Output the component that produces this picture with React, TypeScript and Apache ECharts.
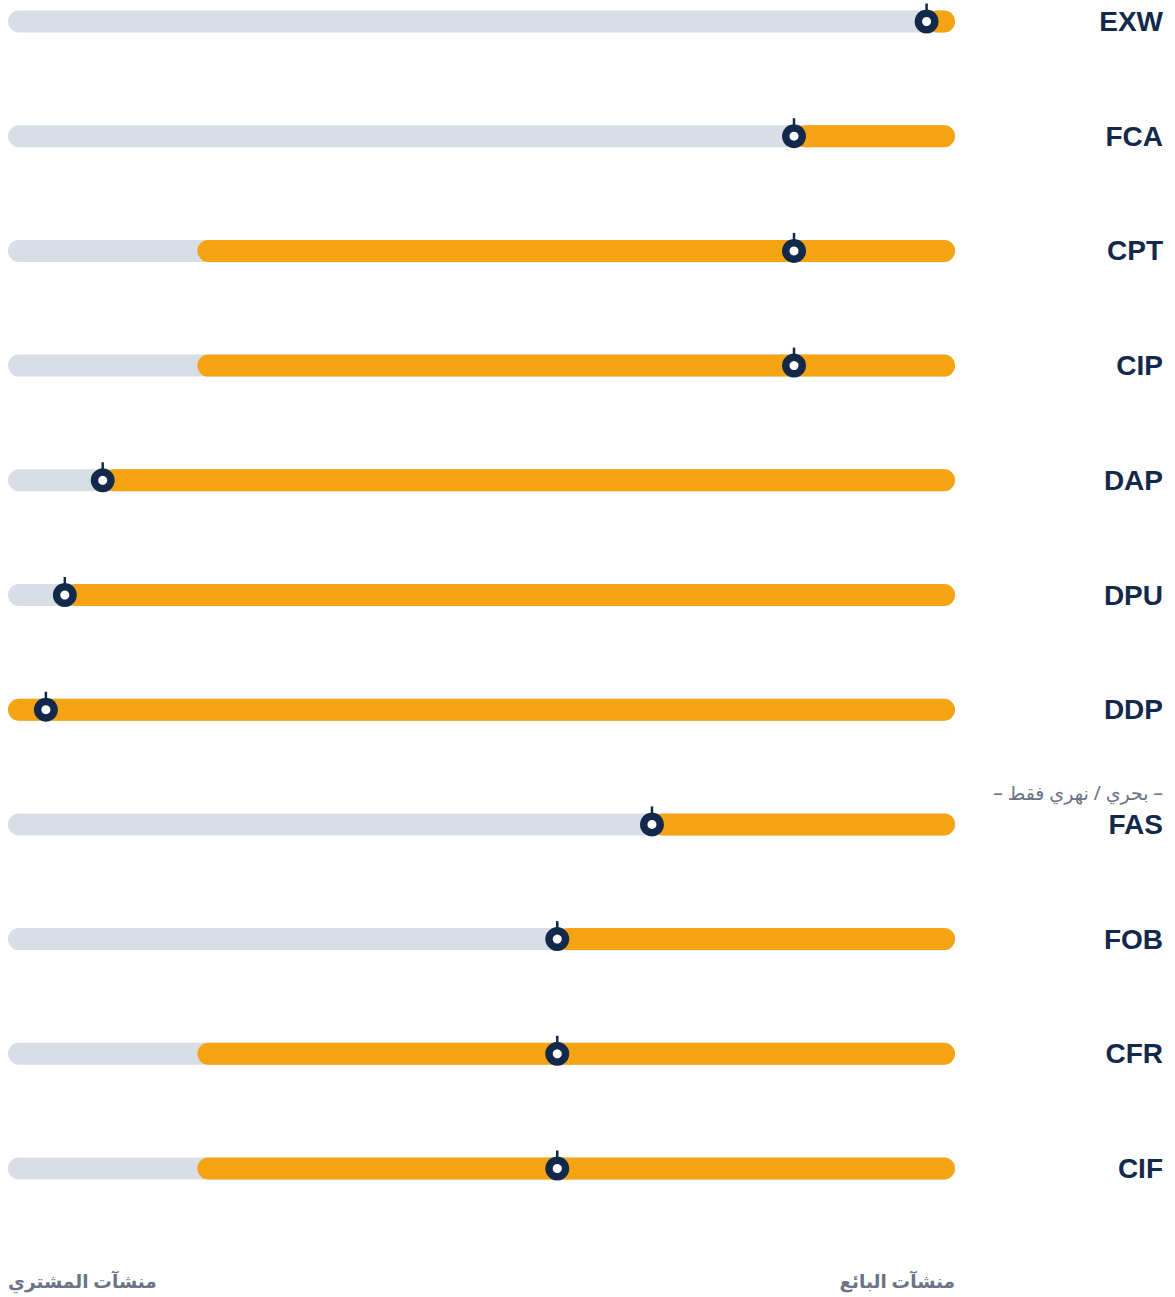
import React, { useEffect, useRef } from "react";
import * as echarts from "echarts";

// Incoterms rows, top to bottom
const categories = ["EXW", "FCA", "CPT", "CIP", "DAP", "DPU", "DDP", "FAS", "FOB", "CFR", "CIF"];
// where the seller's (orange) share of costs starts, 0 = buyer end, 100 = seller end
const costStart = [97, 83, 20, 20, 10, 6, 0, 68, 58, 20, 20];
// risk transfer point (marker)
const riskPoint = [97, 83, 83, 83, 10, 6, 4, 68, 58, 58, 58];
// axis end labels
const buyerLabel = "منشآت المشتري";
const sellerLabel = "منشآت البائع";
const fasNote = "– بحري / نهري فقط –";

const NAVY = "#13294b";
const ORANGE = "#f4a312";
const TRACK = "#d9dee6";
const GREY_TEXT = "#6b7385";

export default function App() {
  const ref = useRef<HTMLDivElement>(null);

  useEffect(() => {
    if (!ref.current) return;
    const chart = echarts.init(ref.current, null, { renderer: "svg" });
    const data = categories.map((c, i) => [i, costStart[i], riskPoint[i]]);
    chart.setOption({
      animation: false,
      grid: { left: 8, right: 220, top: 21.5, bottom: 128.5, containLabel: false },
      xAxis: {
        type: "value",
        min: 0,
        max: 100,
        interval: 100,
        axisLine: { show: false },
        axisTick: { show: false },
        splitLine: { show: false },
        axisLabel: {
          margin: 102,
          fontSize: 18.5,
          fontWeight: "bold",
          color: GREY_TEXT,
          fontFamily: "'Noto Sans', 'DejaVu Sans', sans-serif",
          alignMinLabel: "left",
          alignMaxLabel: "right",
          formatter: (v: number) => (v === 0 ? buyerLabel : v === 100 ? sellerLabel : ""),
        },
      },
      yAxis: {
        type: "category",
        data: categories,
        inverse: true,
        boundaryGap: false,
        position: "right",
        axisLine: { show: false },
        axisTick: { show: false },
        splitLine: { show: false },
        axisLabel: {
          margin: 208,
          align: "right",
          fontSize: 28,
          fontWeight: "bold",
          color: NAVY,
          fontFamily: "'Liberation Sans', Arial, sans-serif",
        },
      },
      graphic: [
        {
          type: "text",
          right: 12,
          top: 783,
          style: {
            text: fasNote,
            fontSize: 19,
            fill: GREY_TEXT,
            fontFamily: "'Noto Sans', 'DejaVu Sans', sans-serif",
          },
        },
      ],
      series: [
        {
          type: "custom",
          encode: { x: [1, 2], y: 0 },
          data,
          renderItem: (params: any, api: any) => {
            const idx = api.value(0);
            const start = api.value(1);
            const mark = api.value(2);
            const p0 = api.coord([0, idx]);
            const y = p0[1];
            const x0 = p0[0];
            const x1 = api.coord([100, idx])[0];
            const xs = api.coord([start, idx])[0];
            const xm = api.coord([mark, idx])[0];
            const h = 22;
            return {
              type: "group",
              children: [
                { type: "rect", shape: { x: x0, y: y - h / 2, width: x1 - x0, height: h, r: h / 2 }, style: { fill: TRACK } },
                { type: "rect", shape: { x: xs, y: y - h / 2, width: x1 - xs, height: h, r: h / 2 }, style: { fill: ORANGE } },
                { type: "line", shape: { x1: xm, y1: y - 18, x2: xm, y2: y - 8 }, style: { stroke: NAVY, lineWidth: 2.5 } },
                { type: "circle", shape: { cx: xm, cy: y, r: 12 }, style: { fill: NAVY } },
                { type: "circle", shape: { cx: xm, cy: y, r: 4.5 }, style: { fill: "#ffffff" } },
              ],
            };
          },
        },
      ],
    });
    return () => chart.dispose();
  }, []);

  return (
    <div
      ref={ref}
      style={{ position: "absolute", left: 0, top: 0, width: 1175, height: 1297 }}
    />
  );
}
